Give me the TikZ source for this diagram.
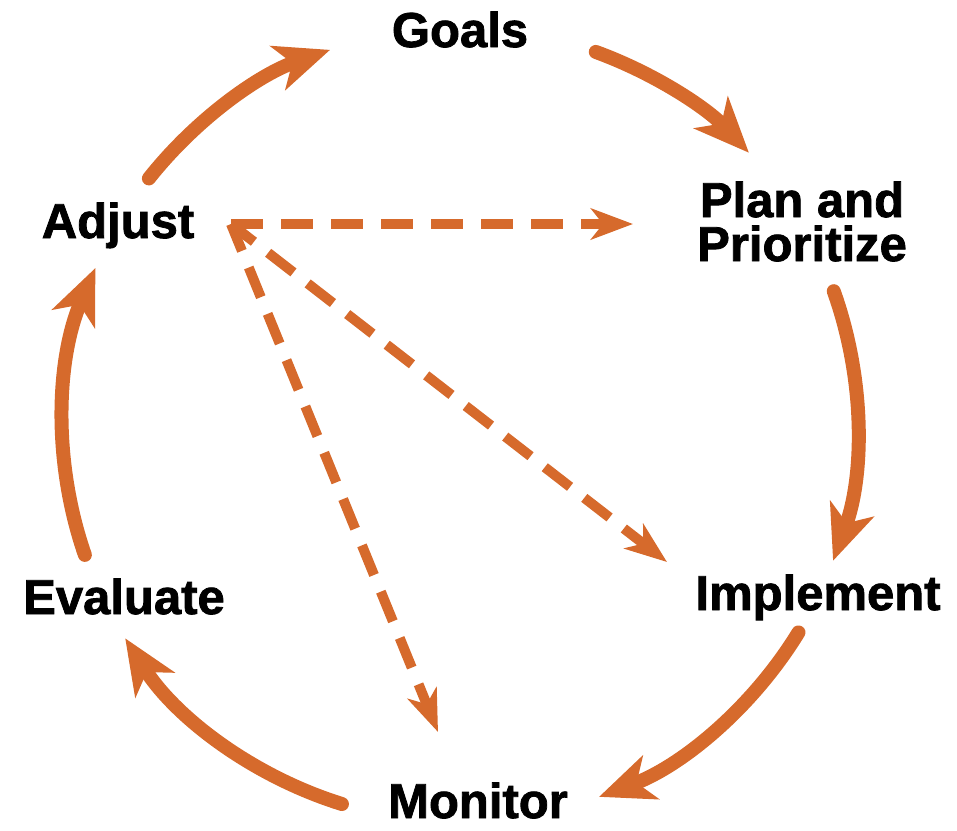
\documentclass[tikz,border=0pt]{standalone}
\usepackage{fontspec}
\setmainfont{Liberation Sans}[BoldFeatures={FakeBold=1.6}]
\usetikzlibrary{arrows.meta,calc}
\definecolor{cycorange}{RGB}{214,106,44}
\begin{document}
\begin{tikzpicture}[x=1pt,y=1pt,
  lbl/.style={font=\fontsize{49}{44}\selectfont\bfseries, inner sep=0pt, anchor=base, align=center},
  cyc/.style={draw=cycorange, line width=14pt, line cap=round,
    -{Stealth[length=55pt, width=46pt, inset=15pt]}},
  dsh/.style={draw=cycorange, line width=10pt, dash pattern=on 32pt off 18pt,
    -{Stealth[length=42pt, width=31pt, inset=12pt]}}]
\useasboundingbox (0,0) rectangle (957,-830);
% labels
\node[lbl] (goals) at (460,-47) {Goals};
\node[lbl] (plan) at (802,-261) {Plan and\\Prioritize};
\node[lbl] (adjust) at (118,-238) {Adjust};
\node[lbl] (evaluate) at (124,-614) {Evaluate};
\node[lbl] (implement) at (818,-610) {Implement};
\node[lbl] (monitor) at (478,-818) {Monitor};
% cycle geometry
\coordinate (c) at (460,-425);
\coordinate (a1s) at ($(c)+(141.6:397)$);
\coordinate (a2s) at ($(c)+(70.0:397)$);
\coordinate (a3s) at ($(c)+(19.7:397)$);
\coordinate (a4s) at ($(c)+(-31.5:397)$);
\coordinate (a5s) at ($(c)+(252.7:397)$);
\coordinate (a6s) at ($(c)+(199.1:397)$);
\draw[cyc] (a1s) arc[start angle=141.6, end angle=109.1, radius=397pt];
\draw[cyc] (a2s) arc[start angle=70.0, end angle=43.3, radius=397pt];
\draw[cyc] (a3s) arc[start angle=19.7, end angle=-20.0, radius=397pt];
\draw[cyc] (a4s) arc[start angle=-31.5, end angle=-69.5, radius=397pt];
\draw[cyc] (a5s) arc[start angle=252.7, end angle=212.5, radius=397pt];
\draw[cyc] (a6s) arc[start angle=199.1, end angle=156.7, radius=397pt];
% dashed connectors
\coordinate (adjpt) at (231,-224);
\coordinate (plantip) at (633,-224);
\coordinate (impltip) at (667,-562);
\coordinate (montip) at (438,-732);
\draw[dsh] (adjpt) -- (plantip);
\draw[dsh, dash phase=3pt] (adjpt) -- (impltip);
\draw[dsh, dash phase=3pt] (adjpt) -- (montip);
\end{tikzpicture}
\end{document}
